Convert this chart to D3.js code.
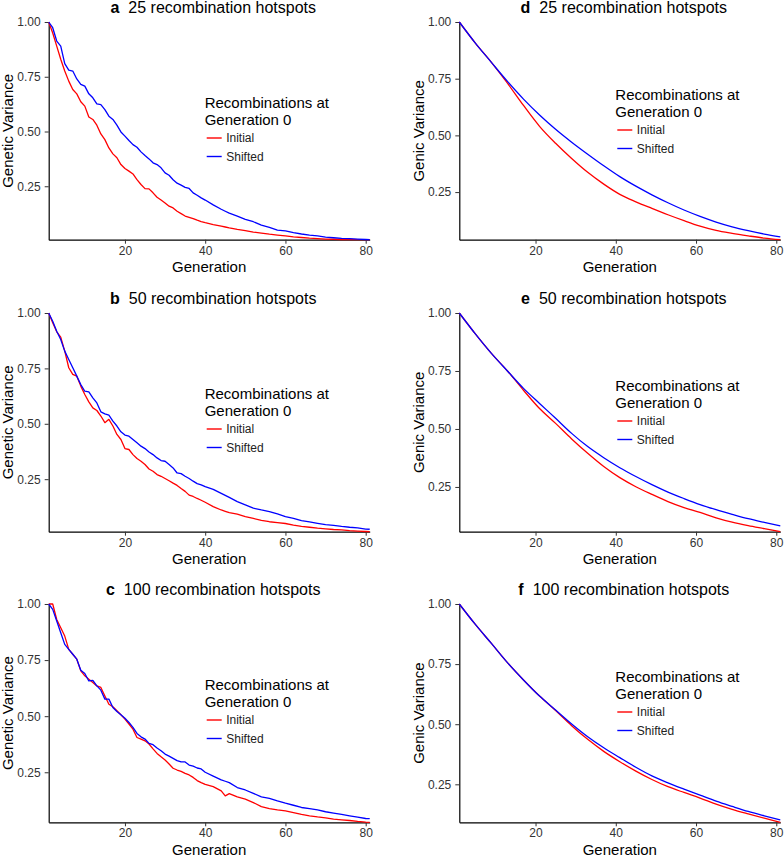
<!DOCTYPE html>
<html>
<head>
<meta charset="utf-8">
<script src="https://cdn.jsdelivr.net/npm/d3@7"></script>
<style>
  body { margin: 0; background: #fff; }
  svg { font-family: "Liberation Sans", Arial, sans-serif; }
</style>
</head>
<body>
<div id="my_dataviz"></div>
<script>

// —————————— DATA
// generations (left column: jagged, every generation up to 40)
var genFine = [1,2,3,4,5,6,7,8,9,10,11,12,13,14,15,16,17,18,19,20,
  21,22,23,24,25,26,27,28,29,30,31,32,33,34,35,36,37,38,39,40,
  42,44,45,46,48,50,52,54,56,58,60,62,64,66,68,70,72,74,76,78,80,81];
// right column: smooth curves, every 4 generations
var genCoarse = [1,5,9,13,17,21,25,29,33,37,41,45,49,53,57,61,65,69,73,77,81];

var xTicks = [20, 40, 60, 80];
var yTicks = [0.25, 0.50, 0.75, 1.00];
var seriesNames = ["Initial", "Shifted"];
var seriesColors = ["#ff0000", "#0000ff"];

// a: genetic variance, 25 hotspots
var aInitial = [1.0,0.95,0.89,0.83,0.776,0.73,0.692,0.672,0.636,0.616,0.566,0.555,0.529,0.489,0.463,0.425,0.398,0.38,0.349,0.331,
  0.319,0.306,0.28,0.258,0.239,0.238,0.22,0.20,0.187,0.174,0.159,0.151,0.136,0.125,0.114,0.108,0.102,0.095,0.089,0.084,
  0.075,0.068,0.064,0.06,0.053,0.047,0.041,0.036,0.031,0.027,0.023,0.019,0.016,0.013,0.011,0.009,0.008,0.007,0.007,0.006,0.006,0.006];
var aShifted = [1.0,0.974,0.913,0.89,0.81,0.78,0.776,0.74,0.715,0.707,0.672,0.654,0.626,0.623,0.60,0.57,0.555,0.529,0.498,0.479,
  0.459,0.44,0.428,0.407,0.39,0.375,0.357,0.349,0.334,0.311,0.30,0.28,0.264,0.255,0.245,0.24,0.22,0.209,0.197,0.187,
  0.165,0.145,0.136,0.127,0.114,0.099,0.088,0.073,0.0625,0.05,0.046,0.038,0.032,0.027,0.023,0.018,0.015,0.012,0.011,0.009,0.007,0.006];

// b: genetic variance, 50 hotspots
var bInitial = [1.0,0.956,0.915,0.891,0.828,0.753,0.723,0.715,0.67,0.632,0.599,0.572,0.56,0.535,0.505,0.52,0.49,0.452,0.429,0.388,
  0.384,0.361,0.343,0.331,0.316,0.296,0.286,0.271,0.263,0.253,0.243,0.232,0.222,0.208,0.195,0.178,0.172,0.163,0.155,0.146,
  0.126,0.111,0.105,0.099,0.092,0.081,0.073,0.064,0.058,0.054,0.05,0.043,0.037,0.033,0.029,0.026,0.023,0.021,0.018,0.016,0.014,0.013];
var bShifted = [1.0,0.963,0.918,0.88,0.828,0.79,0.753,0.715,0.677,0.647,0.644,0.617,0.594,0.554,0.545,0.539,0.512,0.49,0.464,0.449,
  0.444,0.429,0.414,0.399,0.388,0.373,0.361,0.346,0.334,0.331,0.316,0.301,0.278,0.275,0.263,0.253,0.241,0.23,0.224,0.216,
  0.204,0.186,0.177,0.168,0.149,0.134,0.119,0.111,0.104,0.093,0.081,0.073,0.063,0.057,0.051,0.045,0.042,0.037,0.033,0.03,0.025,0.024];

// c: genetic variance, 100 hotspots
var cInitial = [1.0,1.0,0.931,0.894,0.857,0.798,0.776,0.754,0.702,0.68,0.665,0.65,0.635,0.628,0.59,0.553,0.542,0.524,0.506,0.487,
  0.465,0.442,0.405,0.398,0.39,0.376,0.354,0.334,0.319,0.305,0.287,0.268,0.26,0.254,0.245,0.238,0.227,0.213,0.204,0.196,
  0.186,0.167,0.145,0.155,0.14,0.13,0.115,0.097,0.088,0.082,0.078,0.07,0.062,0.056,0.051,0.047,0.041,0.038,0.035,0.031,0.028,0.027];
var cShifted = [1.0,0.976,0.924,0.872,0.82,0.798,0.776,0.754,0.705,0.69,0.657,0.66,0.635,0.616,0.576,0.576,0.539,0.521,0.506,0.491,
  0.472,0.45,0.423,0.408,0.398,0.379,0.373,0.358,0.346,0.331,0.322,0.312,0.302,0.296,0.296,0.282,0.277,0.269,0.265,0.25,
  0.233,0.216,0.21,0.204,0.182,0.171,0.156,0.14,0.134,0.122,0.112,0.103,0.093,0.088,0.082,0.074,0.068,0.062,0.056,0.05,0.044,0.043];

// d-f: genic variance
var dInitial = [1.0,0.907,0.822,0.73,0.632,0.54,0.465,0.398,0.337,0.285,0.24,0.207,0.178,0.15,0.124,0.1,0.081,0.068,0.057,0.047,0.04];
var dShifted = [1.0,0.907,0.822,0.738,0.66,0.59,0.527,0.47,0.417,0.366,0.318,0.276,0.238,0.203,0.171,0.143,0.118,0.097,0.08,0.065,0.052];
var eInitial = [1.0,0.91,0.826,0.75,0.667,0.588,0.524,0.457,0.395,0.338,0.29,0.251,0.218,0.187,0.161,0.14,0.117,0.098,0.083,0.07,0.057];
var eShifted = [1.0,0.91,0.826,0.75,0.675,0.61,0.546,0.481,0.424,0.376,0.333,0.295,0.26,0.228,0.2,0.174,0.152,0.132,0.113,0.097,0.082];
var fInitial = [1.0,0.915,0.836,0.756,0.684,0.617,0.557,0.494,0.437,0.387,0.344,0.305,0.27,0.24,0.216,0.193,0.168,0.146,0.127,0.109,0.092];
var fShifted = [1.0,0.915,0.836,0.756,0.684,0.617,0.559,0.501,0.448,0.402,0.361,0.321,0.285,0.256,0.23,0.205,0.18,0.158,0.137,0.119,0.102];

var panels = [
  {letter: "a", hotspots: 25,  ylab: "Genetic Variance", gens: genFine,   series: [aInitial, aShifted], col: 0, row: 0},
  {letter: "b", hotspots: 50,  ylab: "Genetic Variance", gens: genFine,   series: [bInitial, bShifted], col: 0, row: 1},
  {letter: "c", hotspots: 100, ylab: "Genetic Variance", gens: genFine,   series: [cInitial, cShifted], col: 0, row: 2},
  {letter: "d", hotspots: 25,  ylab: "Genic Variance",   gens: genCoarse, series: [dInitial, dShifted], col: 1, row: 0},
  {letter: "e", hotspots: 50,  ylab: "Genic Variance",   gens: genCoarse, series: [eInitial, eShifted], col: 1, row: 1},
  {letter: "f", hotspots: 100, ylab: "Genic Variance",   gens: genCoarse, series: [fInitial, fShifted], col: 1, row: 2}
];

// —————————— LAYOUT
var width = 784, height = 857;
var colLeft = [48.7, 459.3], plotW = 321;
var rowTop = [22, 313, 604], rowBottom = [239.7, 531.7, 822.3];
var legendDy = [81, 73];

var svg = d3.select("#my_dataviz")
  .append("svg")
    .attr("width", width)
    .attr("height", height);

panels.forEach(function(p) {
  var x0 = colLeft[p.col], top = rowTop[p.row], bottom = rowBottom[p.row];
  var ymin = d3.min(p.series, function(s) { return d3.min(s); });

  var x = d3.scaleLinear().domain(d3.extent(p.gens)).range([x0, x0 + plotW]);
  var y = d3.scaleLinear().domain([ymin, 1]).range([bottom, top]);

  var g = svg.append("g").attr("class", "panel");

  // axes
  var xAxis = g.append("g")
    .attr("transform", "translate(0," + bottom + ")")
    .call(d3.axisBottom(x).tickValues(xTicks).tickSize(4).tickSizeOuter(0).tickPadding(2.5));
  var yAxis = g.append("g")
    .attr("transform", "translate(" + x0 + ",0)")
    .call(d3.axisLeft(y).tickValues(yTicks).tickFormat(d3.format(".2f")).tickSize(4).tickSizeOuter(0).tickPadding(4));

  [xAxis, yAxis].forEach(function(ax) {
    ax.attr("font-family", null).attr("font-size", null);
    ax.select(".domain").attr("stroke", "#000").attr("stroke-width", 1.2);
    ax.selectAll(".tick line").attr("stroke", "#333").attr("stroke-width", 1);
    ax.selectAll(".tick text").attr("fill", "#333").style("font-size", "12px");
  });

  // lines (Initial first, Shifted on top)
  var line = d3.line()
    .x(function(d, i) { return x(p.gens[i]); })
    .y(function(d) { return y(d); })
    .curve(p.col === 1 ? d3.curveMonotoneX : d3.curveLinear);

  g.selectAll(".myLine")
    .data(p.series)
    .enter()
    .append("path")
      .attr("class", "myLine")
      .attr("fill", "none")
      .attr("stroke", function(d, i) { return seriesColors[i]; })
      .attr("stroke-width", 1.3)
      .attr("stroke-linejoin", "round")
      .attr("d", line);

  // title
  var title = g.append("text")
    .attr("x", x0 + plotW / 2 + 4)
    .attr("y", top - 9)
    .attr("text-anchor", "middle")
    .style("font-size", "16px")
    .attr("fill", "#000");
  title.append("tspan").attr("font-weight", "bold").text(p.letter);
  title.append("tspan").attr("dx", 9).text(p.hotspots + " recombination hotspots");

  // axis titles
  g.append("text")
    .attr("x", x0 + plotW / 2)
    .attr("y", bottom + 32.3)
    .attr("text-anchor", "middle")
    .style("font-size", "15px")
    .text("Generation");

  g.append("text")
    .attr("transform", "translate(" + (x0 - 35.5) + "," + ((top + bottom) / 2) + ") rotate(-90)")
    .attr("text-anchor", "middle")
    .style("font-size", "15px")
    .text(p.ylab);

  // legend
  var lx = x0 + 156, ly = top + legendDy[p.col];
  g.append("text").attr("x", lx).attr("y", ly + 5.3).style("font-size", "15px").text("Recombinations at");
  g.append("text").attr("x", lx).attr("y", ly + 21.8).style("font-size", "15px").text("Generation 0");

  var keys = g.selectAll(".myKey")
    .data(seriesNames)
    .enter()
    .append("g")
      .attr("class", "myKey")
      .attr("transform", function(d, i) { return "translate(" + lx + "," + (ly + 35 + i * 18.5) + ")"; });
  keys.append("line")
    .attr("x1", 2).attr("x2", 17)
    .attr("stroke", function(d, i) { return seriesColors[i]; })
    .attr("stroke-width", 1.4);
  keys.append("text")
    .attr("x", 21.5).attr("y", 4.3)
    .style("font-size", "12px")
    .attr("fill", "#222")
    .text(function(d) { return d; });
});

</script>
</body>
</html>
